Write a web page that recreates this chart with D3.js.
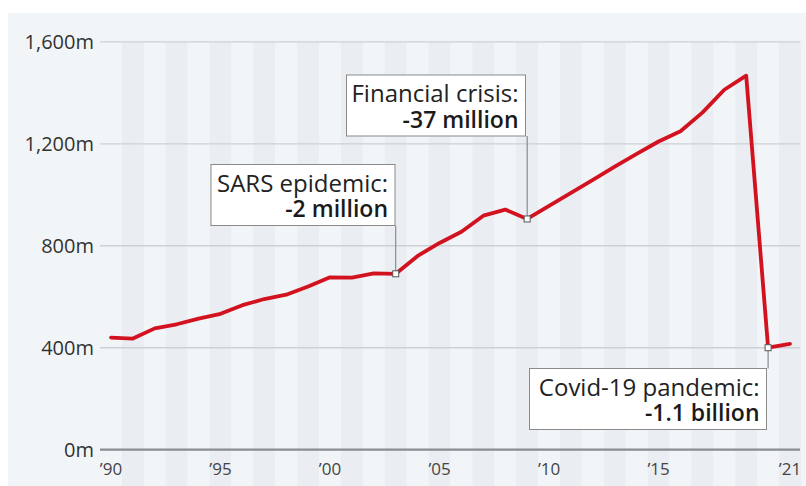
<!DOCTYPE html>
<html><head><meta charset="utf-8">
<script src="https://cdn.jsdelivr.net/npm/d3@7"></script>
<style>
html,body{margin:0;padding:0;background:#fff;}
svg{display:block;font-family:"Open Sans","Noto Sans",sans-serif;}
</style></head>
<body>
<svg id="chart" width="806" height="486"></svg>
<script>
const years = [1990,1991,1992,1993,1994,1995,1996,1997,1998,1999,2000,2001,2002,2003,2004,2005,2006,2007,2008,2009,2010,2011,2012,2013,2014,2015,2016,2017,2018,2019,2020,2021];
const arrivals = [440,436,476,492,514,533,567,591,608,640,676,675,692,690,760,811,855,918,942,905,956,1007,1058,1110,1160,1209,1249,1322,1412,1467,400,415];
const yTicks = [0,400,800,1200,1600];
const yTickLabels = ["0m","400m","800m","1,200m","1,600m"];
const xTicks = [1990,1995,2000,2005,2010,2015,2021];
const xTickLabels = ["\u201990","\u201995","\u201900","\u201905","\u201910","\u201915","\u201921"];
const annotations = [
  {year:2003, line1:"SARS epidemic:", line2:"-2 million"},
  {year:2009, line1:"Financial crisis:", line2:"-37 million"},
  {year:2020, line1:"Covid-19 pandemic:", line2:"-1.1 billion"}
];

const svg = d3.select("#chart");
const x = d3.scaleLinear().domain([1990,2021]).range([111,790]);
const y = d3.scaleLinear().domain([0,1600]).range([449.7,41.8]);

// panel
svg.append("rect").attr("x",8).attr("y",13).attr("width",798).attr("height",473).attr("fill","#f2f5f8");

// stripes
svg.append("g").selectAll("rect").data(years.slice(1)).join("rect")
  .attr("x",d=>x(d-0.5)).attr("width",d=>x(d+0.5)-x(d-0.5))
  .attr("y",y(1600)).attr("height",486-y(1600))
  .attr("fill",(d,i)=> i%2===0 ? "#eaeef3" : "#f2f5f8");

// grid
svg.append("g").selectAll("line").data(yTicks).join("line")
  .attr("x1",100).attr("x2",800)
  .attr("y1",d=>y(d)).attr("y2",d=>y(d))
  .attr("stroke",d=>d===0?"#8a8d91":"#cdd0d4")
  .attr("stroke-width",d=>d===0?2.2:1.3);

// y labels
svg.append("g").selectAll("text").data(yTicks).join("text")
  .attr("x",94).attr("y",d=>y(d)).attr("dy","0.35em")
  .attr("text-anchor","end").attr("font-size",20).attr("fill","#333")
  .text((d,i)=>yTickLabels[i]);

// x labels
svg.append("g").selectAll("text").data(xTicks).join("text")
  .attr("x",d=>x(d)).attr("y",475)
  .attr("text-anchor","middle").attr("font-size",17).attr("fill","#444")
  .text((d,i)=>xTickLabels[i]);

// line
const data = years.map((yr,i)=>({year:yr,value:arrivals[i]}));
svg.append("path").datum(data)
  .attr("fill","none").attr("stroke","#d3121f").attr("stroke-width",3.8)
  .attr("stroke-linejoin","round").attr("stroke-linecap","round")
  .attr("d",d3.line().x(d=>x(d.year)).y(d=>y(d.value)));

// annotations
const boxes = {
  2003:{right:395,top:164.5,width:184,height:61},
  2009:{right:525.5,top:75,width:179,height:61},
  2020:{right:766.5,top:368.5,width:237,height:61}
};
annotations.forEach(a=>{
  const v = arrivals[years.indexOf(a.year)];
  const px = x(a.year), py = y(v);
  const b = boxes[a.year];
  const g = svg.append("g");
  const boxBottom = b.top + b.height;
  if (py > boxBottom) {
    g.append("line").attr("x1",px).attr("x2",px).attr("y1",boxBottom).attr("y2",py)
      .attr("stroke","#777").attr("stroke-width",1);
  } else {
    g.append("line").attr("x1",px).attr("x2",px).attr("y1",py).attr("y2",b.top)
      .attr("stroke","#777").attr("stroke-width",1);
  }
  g.append("rect").attr("x",b.right-b.width).attr("y",b.top).attr("width",b.width).attr("height",b.height)
    .attr("fill","#fff").attr("stroke","#8a8a8a").attr("stroke-width",1);
  g.append("text").attr("x",b.right-7).attr("y",b.top+27).attr("text-anchor","end")
    .attr("font-size",24).attr("fill","#222").text(a.line1);
  g.append("text").attr("x",b.right-7).attr("y",b.top+52.5).attr("text-anchor","end")
    .attr("font-size",23).attr("font-weight",600).attr("fill","#1a1a1a").text(a.line2);
  g.append("rect").attr("x",px-3).attr("y",py-3).attr("width",6).attr("height",6)
    .attr("fill","#fff").attr("stroke","#555").attr("stroke-width",1);
});
</script>
</body></html>
